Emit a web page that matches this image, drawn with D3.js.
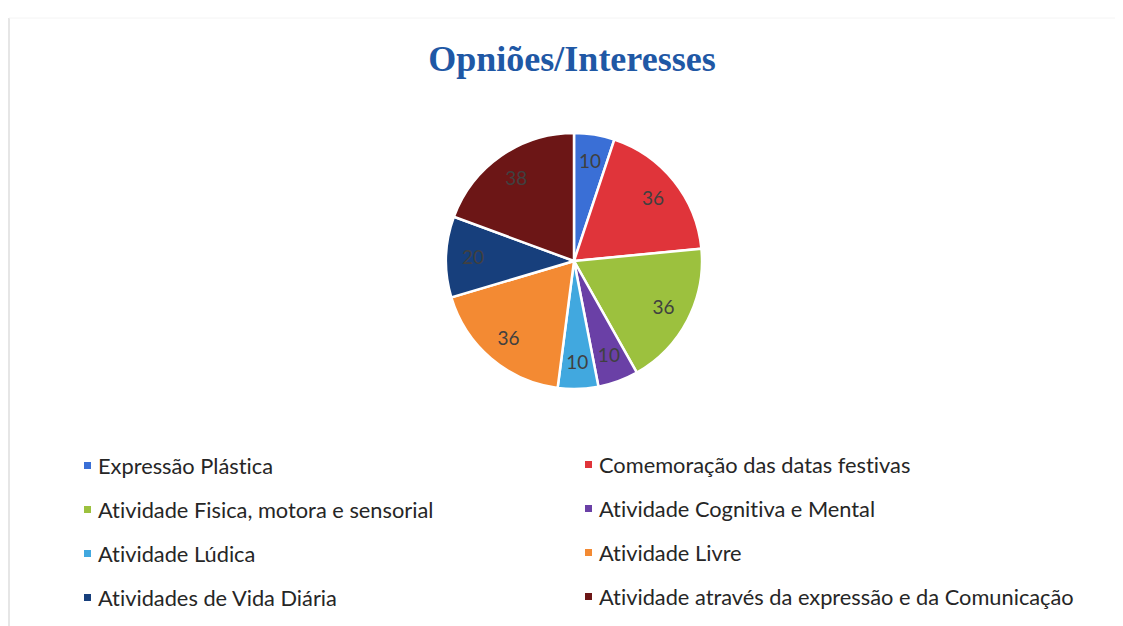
<!DOCTYPE html>
<html>
<head>
<meta charset="utf-8">
<script src="https://cdn.jsdelivr.net/npm/d3@7"></script>
<style>
  body { margin: 0; background: #fff; }
  text { font-variant-ligatures: none; }
</style>
</head>
<body>
<div id="chart"></div>
<script>
// chart data
var categories = [
  "Expressão Plástica",
  "Comemoração das datas festivas",
  "Atividade Fisica, motora e sensorial",
  "Atividade Cognitiva e Mental",
  "Atividade Lúdica",
  "Atividade Livre",
  "Atividades de Vida Diária",
  "Atividade através da expressão e da Comunicação"
];
var values = [10, 36, 36, 10, 10, 36, 20, 38];
var colors = ["#3a6fd6", "#e0343a", "#9cc13e", "#6a40a6", "#41a8df", "#f38a33", "#173f7c", "#6c1616"];

var width = 1123, height = 626;

var svg = d3.select("#chart")
  .append("svg")
  .attr("width", width)
  .attr("height", height);

// faint frame of the scanned chart
svg.append("line")
  .attr("x1", 9).attr("x2", 9).attr("y1", 18).attr("y2", height)
  .style("stroke", "#e6e6e6").style("stroke-width", 2);
svg.append("line")
  .attr("x1", 9).attr("x2", 1115).attr("y1", 18).attr("y2", 18)
  .style("stroke", "#f4f4f4").style("stroke-width", 1);

// title
svg.append("text")
  .attr("x", 572)
  .attr("y", 71)
  .attr("text-anchor", "middle")
  .style("font-family", "'Liberation Serif', serif")
  .style("font-weight", "bold")
  .style("font-size", "36px")
  .style("fill", "#1f58a5")
  .text("Opniões/Interesses");

// pie
var cx = 574, cy = 261, r = 128;

var pie = d3.pie().sort(null).value(d => d.value);
var arc = d3.arc().innerRadius(0).outerRadius(r);
var labelArc = d3.arc().innerRadius(101).outerRadius(101);

var data = categories.map((c, i) => ({name: c, value: values[i], color: colors[i]}));

var g = svg.append("g")
  .attr("transform", "translate(" + cx + "," + cy + ")");

var slices = g.selectAll("g.slice")
  .data(pie(data))
  .enter()
  .append("g")
  .attr("class", "slice");

slices.append("path")
  .attr("d", arc)
  .style("fill", d => d.data.color)
  .style("stroke", "#fff")
  .style("stroke-width", 2.5);

slices.append("text")
  .attr("transform", d => "translate(" + labelArc.centroid(d) + ")")
  .attr("text-anchor", "middle")
  .attr("dy", "0.35em")
  .style("font-family", "Lato, 'Noto Sans', sans-serif")
  .style("font-size", "19px")
  .style("fill", "#404040")
  .text(d => d.data.value);

// legend
var legendX = [84, 585];
var legendY = [466, 510, 554, 598];

var legend = svg.selectAll("g.legend")
  .data(data)
  .enter()
  .append("g")
  .attr("class", "legend")
  .attr("transform", (d, i) =>
    "translate(" + legendX[i % 2] + "," + (legendY[Math.floor(i / 2)] - (i % 2)) + ")");

legend.append("rect")
  .attr("x", 0)
  .attr("y", -4)
  .attr("width", 7)
  .attr("height", 7)
  .style("fill", d => d.color);

legend.append("text")
  .attr("x", 14)
  .attr("y", 0)
  .attr("dy", "0.35em")
  .style("font-family", "Lato, 'Noto Sans', sans-serif")
  .style("font-size", "21.8px")
  .style("fill", "#262626")
  .text(d => d.name);
</script>
</body>
</html>
